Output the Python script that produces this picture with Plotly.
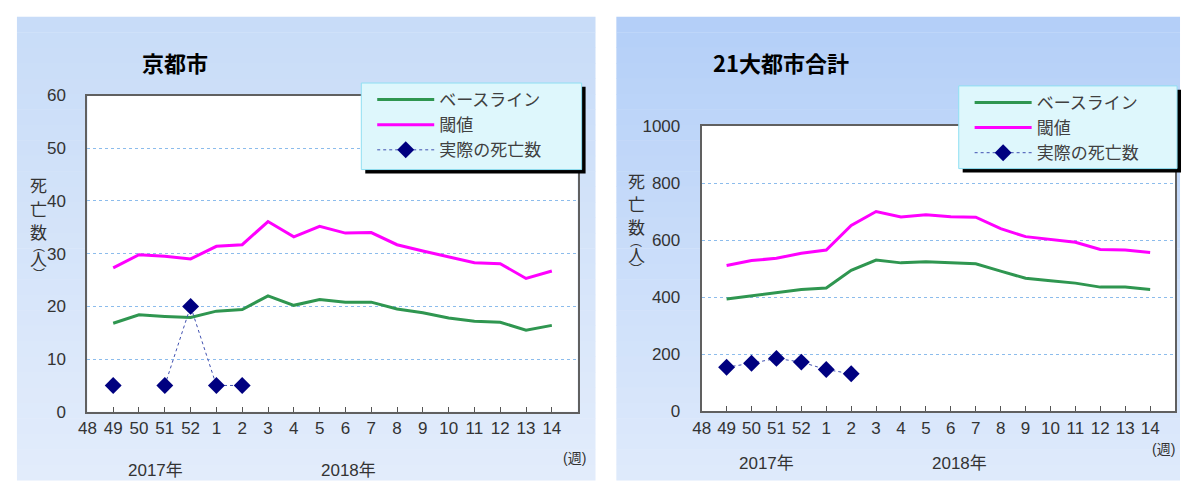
import plotly.graph_objects as go

# ---------------- data ----------------
weeks = ["48", "49", "50", "51", "52", "1", "2", "3", "4", "5", "6", "7",
         "8", "9", "10", "11", "12", "13", "14"]

kyoto_baseline = [None, 16.8, 18.4, 18.1, 17.9, 19.1, 19.4, 22.0, 20.2, 21.3,
                  20.8, 20.8, 19.5, 18.8, 17.8, 17.2, 17.0, 15.5, 16.4]
kyoto_threshold = [None, 27.3, 29.8, 29.5, 29.0, 31.4, 31.7, 36.1, 33.2, 35.2,
                   33.9, 34.0, 31.7, 30.5, 29.4, 28.3, 28.1, 25.3, 26.7]
kyoto_actual = [None, 5, None, 5, 20, 5, 5, None, None, None,
                None, None, None, None, None, None, None, None, None]

total_baseline = [None, 393, 404, 416, 427, 432, 494, 530, 520, 524,
                  520, 517, 491, 466, 457, 449, 435, 435, 427]
total_threshold = [None, 511, 528, 536, 554, 565, 651, 700, 681, 689,
                   682, 680, 640, 612, 601, 592, 567, 565, 556]
total_actual = [None, 154, 168, 185, 172, 146, 131, None, None, None,
                None, None, None, None, None, None, None, None, None]

series_names = ["ベースライン", "閾値", "実際の死亡数"]
panel_titles = ["京都市", "21大都市合計"]
year_labels = ["2017年", "2018年"]
week_unit = "(週)"
y_title_chars = ["死", "亡", "数", "︵", "人", "︶"]

# ---------------- layout helpers ----------------
W, H = 1183, 492
FONT = "Liberation Sans, Noto Sans CJK JP, sans-serif"
JFONT = "Noto Sans CJK JP, sans-serif"


def px(x):
    return x / W


def py(y):
    return 1 - y / H


GREEN = "#2f9650"
MAGENTA = "#ff00ff"
NAVY = "#000080"

fig = go.Figure()


def add_panel(xa, ya, leg, base, thr, act):
    fig.add_trace(go.Scatter(x=weeks, y=base, name=series_names[0], mode="lines",
                             line=dict(color=GREEN, width=3), xaxis=xa, yaxis=ya,
                             legend=leg, legendgroup=leg + "a"))
    fig.add_trace(go.Scatter(x=weeks, y=thr, name=series_names[1], mode="lines",
                             line=dict(color=MAGENTA, width=3), xaxis=xa, yaxis=ya,
                             legend=leg, legendgroup=leg + "b"))
    fig.add_trace(go.Scatter(x=weeks, y=act, name=series_names[2], mode="lines+markers",
                             line=dict(color="#4050b0", width=1, dash="dot"),
                             marker=dict(symbol="diamond", size=13, color=NAVY),
                             connectgaps=False, xaxis=xa, yaxis=ya,
                             legend=leg, legendgroup=leg + "c"))


add_panel("x", "y", "legend", kyoto_baseline, kyoto_threshold, kyoto_actual)
add_panel("x2", "y2", "legend2", total_baseline, total_threshold, total_actual)

shapes = []


def gradient(x0, x1, y0, y1, c_top, c_bot, n=30):
    for i in range(n):
        t = i / (n - 1)
        c = tuple(int(round(a + (b - a) * t)) for a, b in zip(c_top, c_bot))
        ya = y0 + (y1 - y0) * i / n
        yb = y0 + (y1 - y0) * (i + 1) / n + 0.5
        shapes.append(dict(type="rect", xref="paper", yref="paper",
                           x0=px(x0), x1=px(x1), y0=py(ya), y1=py(yb),
                           fillcolor="rgb(%d,%d,%d)" % c, line=dict(width=0),
                           layer="below"))


gradient(8, 591, 8, 490, (200, 220, 248), (226, 236, 251))
gradient(612, 1180, 8, 490, (180, 207, 248), (222, 234, 251))

# white plot areas
for (x0, x1, y0, y1) in [(79, 573, 90, 419), (698, 1175, 121.7, 418.3)]:
    shapes.append(dict(type="rect", xref="paper", yref="paper",
                       x0=px(x0), x1=px(x1), y0=py(y1), y1=py(y0),
                       fillcolor="white", line=dict(width=0), layer="below"))

# legend boxes with shadow
for (x0, x1, y0, y1) in [(355, 577, 77, 167), (957, 1177, 80, 166)]:
    shapes.append(dict(type="rect", xref="paper", yref="paper",
                       x0=px(x0 + 4), x1=px(x1 + 4), y0=py(y1 + 4), y1=py(y0 + 4),
                       fillcolor="black", line=dict(width=0), layer="above"))
    shapes.append(dict(type="rect", xref="paper", yref="paper",
                       x0=px(x0), x1=px(x1), y0=py(y1), y1=py(y0),
                       fillcolor="#def7fc", line=dict(color="#8fdff2", width=1),
                       layer="above"))

annotations = []


def txt(x, y, s, size, color="#333333", bold=False, family=FONT):
    annotations.append(dict(x=px(x), y=py(y), xref="paper", yref="paper",
                            text=("<b>%s</b>" % s) if bold else s,
                            showarrow=False, xanchor="center", yanchor="middle",
                            font=dict(size=size, color=color, family=family)))


txt(167, 55, panel_titles[0], 22, "#000000", True, JFONT)
txt(778, 55, panel_titles[1], 22, "#000000", True, JFONT)

# vertical axis titles, one character per line
title_offsets = [0, 24, 48, 63, 77, 92]
title_sizes = [17, 17, 17, 12, 17, 12]
for cx, top in [(30, 183), (632, 178)]:
    for ch, dy, sz in zip(y_title_chars, title_offsets, title_sizes):
        txt(cx, top + dy, ch, sz, "#333333", False, JFONT)

txt(148, 480, year_labels[0], 17)
txt(342, 480, year_labels[1], 17)
txt(763, 473, year_labels[0], 17)
txt(958, 473, year_labels[1], 17)
txt(570, 467, week_unit, 14)
txt(1163, 458, week_unit, 14)

xcommon = dict(type="category", categoryorder="array", categoryarray=weeks,
               range=[0, 19], ticks="inside", ticklen=5, tickwidth=1,
               tickcolor="#555555", showline=True, mirror=True,
               linecolor="#606060", linewidth=2, showgrid=False,
               tickfont=dict(size=17, color="#333333", family=FONT),
               tickangle=0, fixedrange=True)
ycommon = dict(showline=True, mirror=True, linecolor="#606060", linewidth=2,
               showgrid=True, gridcolor="#8cbcec", griddash="dot", gridwidth=1,
               zeroline=False, ticks="", ticklabelstandoff=16,
               tickfont=dict(size=17, color="#333333", family=FONT),
               fixedrange=True)

legcommon = dict(xanchor="left", yanchor="top", bgcolor="rgba(0,0,0,0)",
                 borderwidth=0, font=dict(size=17, color="#404040", family=JFONT),
                 itemwidth=57, tracegroupgap=6, traceorder="normal")

fig.update_layout(
    width=W, height=H, margin=dict(l=0, r=0, t=0, b=0),
    paper_bgcolor="white", plot_bgcolor="rgba(0,0,0,0)",
    font=dict(family=FONT),
    xaxis=dict(domain=[px(79), px(573)], anchor="y", **xcommon),
    yaxis=dict(domain=[py(419), py(90)], anchor="x", range=[0, 60], dtick=10, **ycommon),
    xaxis2=dict(domain=[px(698), px(1175)], anchor="y2", **xcommon),
    yaxis2=dict(domain=[py(418.3), py(121.7)], anchor="x2", range=[0, 1000], dtick=200, **ycommon),
    legend=dict(x=px(366), y=py(76), **legcommon),
    legend2=dict(x=px(968), y=py(79), **legcommon),
    shapes=shapes,
    annotations=annotations,
    showlegend=True,
)

fig.write_html("out.html")
